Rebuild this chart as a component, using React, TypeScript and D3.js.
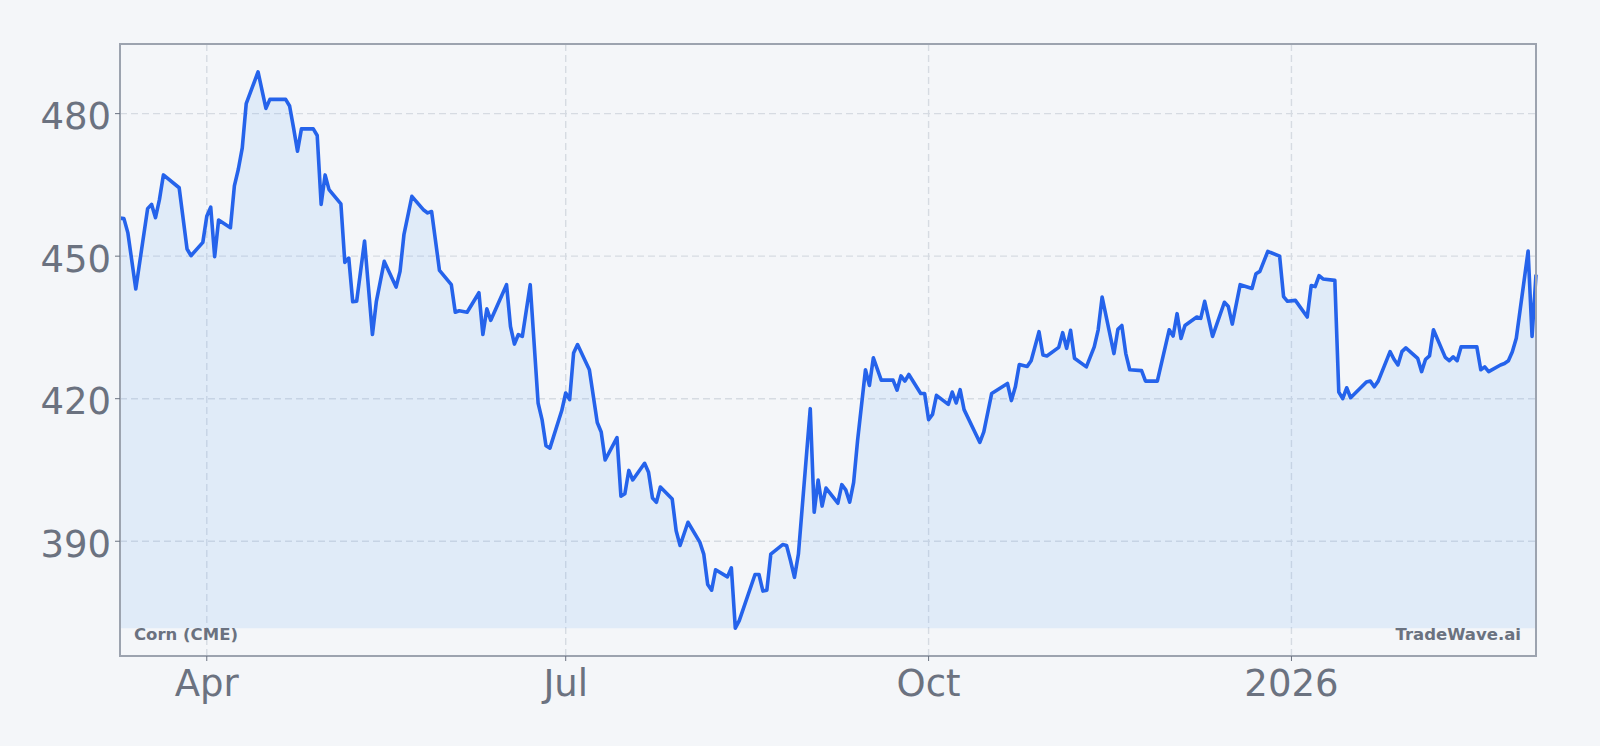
import React, { useRef, useEffect } from "react";
import * as d3 from "d3";

// daily settle, Corn front month (cents/bu)
const dates = [
  "2025-03-10", "2025-03-11", "2025-03-12", "2025-03-14", "2025-03-17", "2025-03-18", "2025-03-19", "2025-03-20", "2025-03-21", "2025-03-25", "2025-03-27", "2025-03-28", "2025-03-31",
  "2025-04-01", "2025-04-02", "2025-04-03", "2025-04-04", "2025-04-07", "2025-04-08", "2025-04-09", "2025-04-10", "2025-04-11", "2025-04-14", "2025-04-16", "2025-04-17", "2025-04-21", "2025-04-22", "2025-04-23", "2025-04-24", "2025-04-25", "2025-04-28", "2025-04-29", "2025-04-30",
  "2025-05-01", "2025-05-02", "2025-05-05", "2025-05-06", "2025-05-07", "2025-05-08", "2025-05-09", "2025-05-11", "2025-05-13", "2025-05-14", "2025-05-16", "2025-05-19", "2025-05-20", "2025-05-21", "2025-05-23", "2025-05-26", "2025-05-27", "2025-05-28", "2025-05-30",
  "2025-06-02", "2025-06-03", "2025-06-04", "2025-06-06", "2025-06-09", "2025-06-10", "2025-06-11", "2025-06-12", "2025-06-16", "2025-06-17", "2025-06-18", "2025-06-19", "2025-06-20", "2025-06-22", "2025-06-24", "2025-06-25", "2025-06-26", "2025-06-27", "2025-06-30",
  "2025-07-01", "2025-07-02", "2025-07-03", "2025-07-04", "2025-07-07", "2025-07-09", "2025-07-10", "2025-07-11", "2025-07-14", "2025-07-15", "2025-07-16", "2025-07-17", "2025-07-18", "2025-07-21", "2025-07-22", "2025-07-23", "2025-07-24", "2025-07-25", "2025-07-28", "2025-07-29", "2025-07-30",
  "2025-08-01", "2025-08-04", "2025-08-05", "2025-08-06", "2025-08-07", "2025-08-08", "2025-08-11", "2025-08-12", "2025-08-13", "2025-08-14", "2025-08-18", "2025-08-19", "2025-08-20", "2025-08-21", "2025-08-22", "2025-08-25", "2025-08-26", "2025-08-27", "2025-08-28", "2025-08-29",
  "2025-09-01", "2025-09-02", "2025-09-03", "2025-09-04", "2025-09-05", "2025-09-08", "2025-09-09", "2025-09-10", "2025-09-11", "2025-09-12", "2025-09-13", "2025-09-15", "2025-09-16", "2025-09-17", "2025-09-19", "2025-09-22", "2025-09-23", "2025-09-24", "2025-09-25", "2025-09-26", "2025-09-29", "2025-09-30",
  "2025-10-01", "2025-10-02", "2025-10-03", "2025-10-06", "2025-10-07", "2025-10-08", "2025-10-09", "2025-10-10", "2025-10-14", "2025-10-15", "2025-10-17", "2025-10-21", "2025-10-22", "2025-10-23", "2025-10-24", "2025-10-26", "2025-10-27", "2025-10-29", "2025-10-30", "2025-10-31",
  "2025-11-03", "2025-11-04", "2025-11-05", "2025-11-06", "2025-11-07", "2025-11-10", "2025-11-12", "2025-11-13", "2025-11-14", "2025-11-17", "2025-11-18", "2025-11-19", "2025-11-20", "2025-11-21", "2025-11-24", "2025-11-25", "2025-11-28",
  "2025-12-01", "2025-12-02", "2025-12-03", "2025-12-04", "2025-12-05", "2025-12-08", "2025-12-09", "2025-12-10", "2025-12-12", "2025-12-15", "2025-12-16", "2025-12-17", "2025-12-19", "2025-12-22", "2025-12-23", "2025-12-24", "2025-12-26", "2025-12-29", "2025-12-30", "2025-12-31",
  "2026-01-02", "2026-01-05", "2026-01-06", "2026-01-07", "2026-01-08", "2026-01-09", "2026-01-12", "2026-01-13", "2026-01-14", "2026-01-15", "2026-01-16", "2026-01-20", "2026-01-21", "2026-01-22", "2026-01-23", "2026-01-26", "2026-01-27", "2026-01-28", "2026-01-29", "2026-01-30",
  "2026-02-02", "2026-02-03", "2026-02-04", "2026-02-05", "2026-02-06", "2026-02-09", "2026-02-10", "2026-02-11", "2026-02-12", "2026-02-13", "2026-02-17", "2026-02-18", "2026-02-19", "2026-02-20", "2026-02-23", "2026-02-24", "2026-02-25", "2026-02-26", "2026-02-27",
  "2026-03-02", "2026-03-03", "2026-03-04",
];

const prices = [
  458.0, 457.9, 454.9, 443.1, 460.0, 460.9, 458.1, 461.9, 467.1, 464.4, 451.5, 450.1, 452.9,
  458.4, 460.3, 449.9, 457.6, 456.0, 464.8, 468.3, 472.8, 482.1, 488.8, 481.1, 483.0, 483.0, 481.6, 477.0, 472.1, 476.8, 476.8, 475.4, 460.9,
  467.1, 464.0, 461.0, 448.7, 449.6, 440.4, 440.5, 453.2, 433.5, 440.5, 448.9, 443.5, 446.8, 454.6, 462.6, 459.7, 459.1, 459.4, 447.0,
  444.0, 438.2, 438.5, 438.2, 442.3, 433.5, 438.9, 436.5, 444.0, 435.2, 431.5, 433.5, 433.1, 444.0, 419.1, 415.6, 410.1, 409.6, 417.5,
  421.2, 419.8, 429.6, 431.4, 426.1, 415.0, 413.0, 407.1, 411.8, 399.5, 400.0, 404.9, 402.9, 406.4, 404.5, 399.1, 398.2, 401.4, 398.9, 392.2, 389.1,
  394.0, 389.8, 387.3, 380.9, 379.7, 384.0, 382.5, 384.4, 371.7, 373.3, 383.0, 383.0, 379.5, 379.7, 387.3, 389.3, 389.1, 385.9, 382.4, 387.3,
  417.9, 396.1, 402.9, 397.4, 401.2, 398.0, 401.9, 400.8, 398.2, 402.4, 411.2, 426.1, 422.8, 428.6, 423.9, 423.9, 421.8, 424.8, 423.7, 425.1, 421.1, 421.1,
  415.6, 416.7, 420.7, 418.8, 421.4, 419.1, 421.9, 417.7, 410.8, 413.0, 421.1, 423.2, 419.6, 422.5, 427.2, 426.8, 428.0, 434.1, 429.2, 429.0,
  430.8, 433.9, 430.6, 434.4, 428.5, 426.7, 430.9, 434.5, 441.4, 429.5, 434.6, 435.4, 429.5, 426.1, 425.9, 423.7, 423.7,
  434.5, 433.2, 437.9, 432.7, 435.4, 437.2, 436.9, 440.5, 433.1, 440.3, 439.4, 435.7, 444.0, 443.2, 446.3, 446.8, 451.0, 450.0, 441.5, 440.5,
  440.7, 437.2, 443.8, 443.6, 445.9, 445.2, 444.9, 421.4, 420.0, 422.3, 420.2, 423.5, 423.7, 422.5, 423.7, 429.9, 428.3, 427.1, 429.9, 430.7,
  428.5, 425.7, 428.3, 429.0, 434.5, 428.7, 428.0, 428.8, 428.0, 430.9, 430.9, 426.1, 426.7, 425.7, 427.1, 427.4, 428.0, 429.9, 432.7,
  451.1, 433.1, 446.1,
];

const yTicks = [390, 420, 450, 480];
const symbolLabel = "Corn (CME)";
const brandLabel = "TradeWave.ai";

const WIDTH = 1600;
const HEIGHT = 746;
const FONT = "DejaVu Sans";

const PriceChart = () => {
  const chartRef = useRef<SVGSVGElement | null>(null);

  useEffect(() => {
    if (!chartRef.current) return;

    const svg = d3.select(chartRef.current);
    svg.selectAll("*").remove();

    const margin = { top: 44, right: 64, bottom: 90, left: 120 };
    const width = WIDTH - margin.left - margin.right;
    const height = HEIGHT - margin.top - margin.bottom;

    const parse = d3.timeParse("%Y-%m-%d");
    const data = dates.map((d, i) => ({ date: parse(d) as Date, value: prices[i] }));

    const x = d3
      .scaleTime()
      .domain(d3.extent(data, (d) => d.date) as [Date, Date])
      .range([0, width]);

    // 5% padding like the matplotlib default
    const [lo, hi] = d3.extent(prices) as [number, number];
    const pad = (hi - lo) * 0.05;
    const y = d3
      .scaleLinear()
      .domain([lo - pad, hi + pad])
      .range([height, 0]);

    svg
      .append("rect")
      .attr("width", WIDTH)
      .attr("height", HEIGHT)
      .attr("fill", "#f4f6f9");

    const chart = svg
      .append("g")
      .attr("transform", `translate(${margin.left},${margin.top})`);

    const xTicks = x.ticks(d3.timeMonth.every(3) as d3.TimeInterval);
    const fmt = (d: Date) =>
      d.getMonth() === 0 ? d3.timeFormat("%Y")(d) : d3.timeFormat("%b")(d);

    // grid
    chart
      .append("g")
      .selectAll("line")
      .data(yTicks)
      .enter()
      .append("line")
      .attr("x1", 0)
      .attr("x2", width)
      .attr("y1", (d) => y(d))
      .attr("y2", (d) => y(d))
      .attr("stroke", "#d6dbe2")
      .attr("stroke-width", 1.4)
      .attr("stroke-dasharray", "7,4");

    chart
      .append("g")
      .selectAll("line")
      .data(xTicks)
      .enter()
      .append("line")
      .attr("x1", (d) => x(d))
      .attr("x2", (d) => x(d))
      .attr("y1", 0)
      .attr("y2", height)
      .attr("stroke", "#d6dbe2")
      .attr("stroke-width", 1.4)
      .attr("stroke-dasharray", "7,4");

    // area down to the lowest close
    const area = d3
      .area<{ date: Date; value: number }>()
      .x((d) => x(d.date))
      .y0(y(lo))
      .y1((d) => y(d.value));

    chart
      .append("path")
      .datum(data)
      .attr("d", area)
      .attr("fill", "#60a5fa")
      .attr("fill-opacity", 0.13);

    const line = d3
      .line<{ date: Date; value: number }>()
      .x((d) => x(d.date))
      .y((d) => y(d.value));

    chart
      .append("path")
      .datum(data)
      .attr("d", line)
      .attr("fill", "none")
      .attr("stroke", "#2563eb")
      .attr("stroke-width", 3.6)
      .attr("stroke-linejoin", "round");

    // frame
    chart
      .append("rect")
      .attr("width", width)
      .attr("height", height)
      .attr("fill", "none")
      .attr("stroke", "#9ca3af")
      .attr("stroke-width", 2);

    // Y axis
    const yAxis = chart.append("g");
    yAxis
      .selectAll("line")
      .data(yTicks)
      .enter()
      .append("line")
      .attr("x1", -5)
      .attr("x2", 0)
      .attr("y1", (d) => y(d))
      .attr("y2", (d) => y(d))
      .attr("stroke", "#6b7280")
      .attr("stroke-width", 1);
    yAxis
      .selectAll("text")
      .data(yTicks)
      .enter()
      .append("text")
      .attr("x", -9)
      .attr("y", (d) => y(d))
      .attr("dy", "0.42em")
      .attr("text-anchor", "end")
      .style("font-family", FONT)
      .style("font-size", "37px")
      .style("fill", "#6b7280")
      .text((d) => d.toString());

    // X axis
    const xAxis = chart.append("g").attr("transform", `translate(0,${height})`);
    xAxis
      .selectAll("line")
      .data(xTicks)
      .enter()
      .append("line")
      .attr("x1", (d) => x(d))
      .attr("x2", (d) => x(d))
      .attr("y1", 0)
      .attr("y2", 5)
      .attr("stroke", "#6b7280")
      .attr("stroke-width", 1);
    xAxis
      .selectAll("text")
      .data(xTicks)
      .enter()
      .append("text")
      .attr("x", (d) => x(d))
      .attr("y", 40)
      .attr("text-anchor", "middle")
      .style("font-family", FONT)
      .style("font-size", "37px")
      .style("fill", "#6b7280")
      .text(fmt);

    // labels inside the plot
    chart
      .append("text")
      .attr("x", 14)
      .attr("y", height - 16)
      .style("font-family", FONT)
      .style("font-size", "16.5px")
      .style("font-weight", "bold")
      .style("fill", "#6b7280")
      .text(symbolLabel);

    chart
      .append("text")
      .attr("x", width - 15)
      .attr("y", height - 16)
      .attr("text-anchor", "end")
      .style("font-family", FONT)
      .style("font-size", "16.5px")
      .style("font-weight", "bold")
      .style("fill", "#6b7280")
      .text(brandLabel);
  }, []);

  return <svg ref={chartRef} width={WIDTH} height={HEIGHT} style={{ display: "block" }} />;
};

export default function App() {
  return (
    <div style={{ position: "absolute", left: 0, top: 0, width: WIDTH, height: HEIGHT }}>
      <PriceChart />
    </div>
  );
}
